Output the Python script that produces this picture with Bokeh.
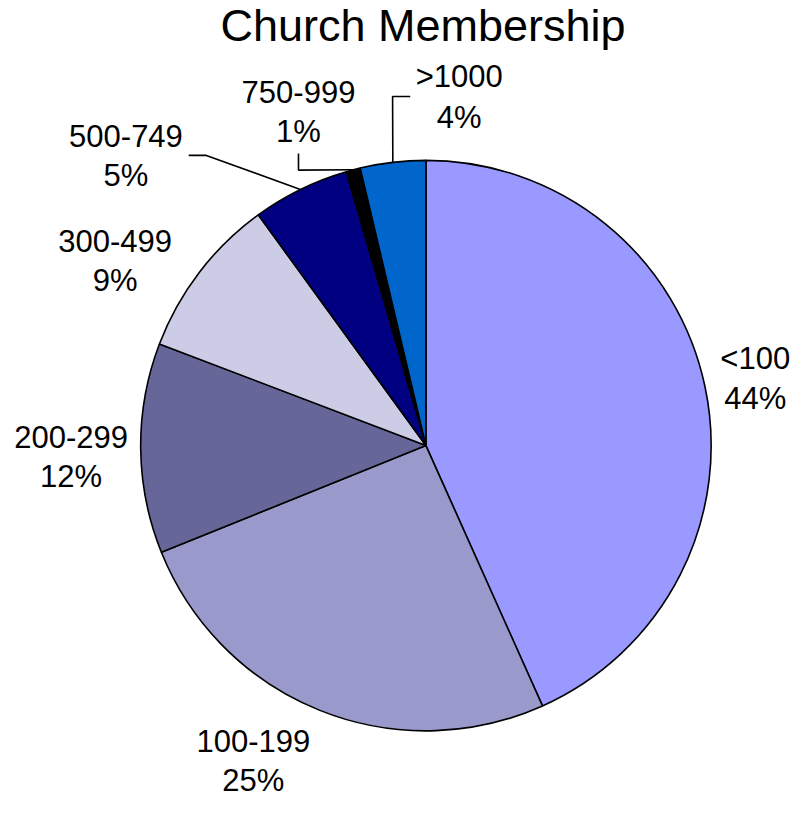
import math
from bokeh.plotting import figure
from bokeh.models import Range1d, ColumnDataSource
from bokeh.core.properties import value
from bokeh.embed import file_html
from bokeh.resources import INLINE

# ---- data ----
categories = ["<100", "100-199", "200-299", "300-499", "500-749", "750-999", ">1000"]
shares = [43.3, 25.6, 11.9, 9.2, 5.5, 0.8, 3.7]          # slice sizes (%)
pct_labels = [44, 25, 12, 9, 5, 1, 4]                     # percentages printed on the chart
colors = ["#9999FF", "#9999CC", "#666699", "#CCCCE6", "#000080", "#000000", "#0066CC"]
title_text = "Church Membership"

# ---- layout (reference pixel coordinates, 809x814) ----
W, H = 809, 814
cx, cy, R = 434, 454, 291
label_pos = [(770, 365), (258, 755), (72, 445), (117, 245), (128, 138), (304, 93), (468, 78)]
line_gap = 41
leaders = {4: [(210, 158), (192, 158)], 5: [(304, 173), (304, 156)], 6: [(400, 98), (418, 98)]}
FONT = "Liberation Sans"
LABEL_SIZE = "31px"
TITLE_SIZE = "45px"

def Y(y):
    return H - y

p = figure(width=W - 16, height=H - 16, output_backend="svg", toolbar_location=None,
           x_range=Range1d(0, W), y_range=Range1d(0, H), min_border=0)
p.axis.visible = False
p.grid.visible = False
p.outline_line_color = None
p.background_fill_color = "white"
p.border_fill_color = "white"

total = sum(shares)
starts, ends, mids = [], [], []
cum = 0.0
for s in shares:
    a0 = math.pi / 2 - 2 * math.pi * cum / total
    cum += s
    a1 = math.pi / 2 - 2 * math.pi * cum / total
    starts.append(a0)
    ends.append(a1)
    mids.append((a0 + a1) / 2)

src = ColumnDataSource(dict(start=starts, end=ends, color=colors, cat=categories))
p.wedge(x=cx, y=Y(cy), radius=R, start_angle="start", end_angle="end", direction="clock",
        fill_color="color", line_color="black", line_width=1.6, source=src)

# leader lines from the slice rim (at mid angle) to the label
for i, pts in leaders.items():
    rx = cx + R * math.cos(mids[i])
    ry = Y(cy) + R * math.sin(mids[i])
    xs = [rx] + [pt[0] for pt in pts]
    ys = [ry] + [Y(pt[1]) for pt in pts]
    p.line(xs, ys, line_color="black", line_width=1.6)

# labels
lx = [pos[0] for pos in label_pos]
ly1 = [Y(pos[1]) for pos in label_pos]
ly2 = [Y(pos[1] + line_gap) for pos in label_pos]
p.text(x=lx, y=ly1, text=categories, text_align="center", text_baseline="middle",
       text_font=value(FONT), text_font_size=LABEL_SIZE, text_color="black")
p.text(x=lx, y=ly2, text=[f"{v}%" for v in pct_labels], text_align="center", text_baseline="middle",
       text_font=value(FONT), text_font_size=LABEL_SIZE, text_color="black")

# title
p.text(x=[431], y=[Y(26)], text=[title_text], text_align="center", text_baseline="middle",
       text_font=value(FONT), text_font_size=TITLE_SIZE, text_color="black")

open("out.html", "w").write(file_html(p, INLINE))
